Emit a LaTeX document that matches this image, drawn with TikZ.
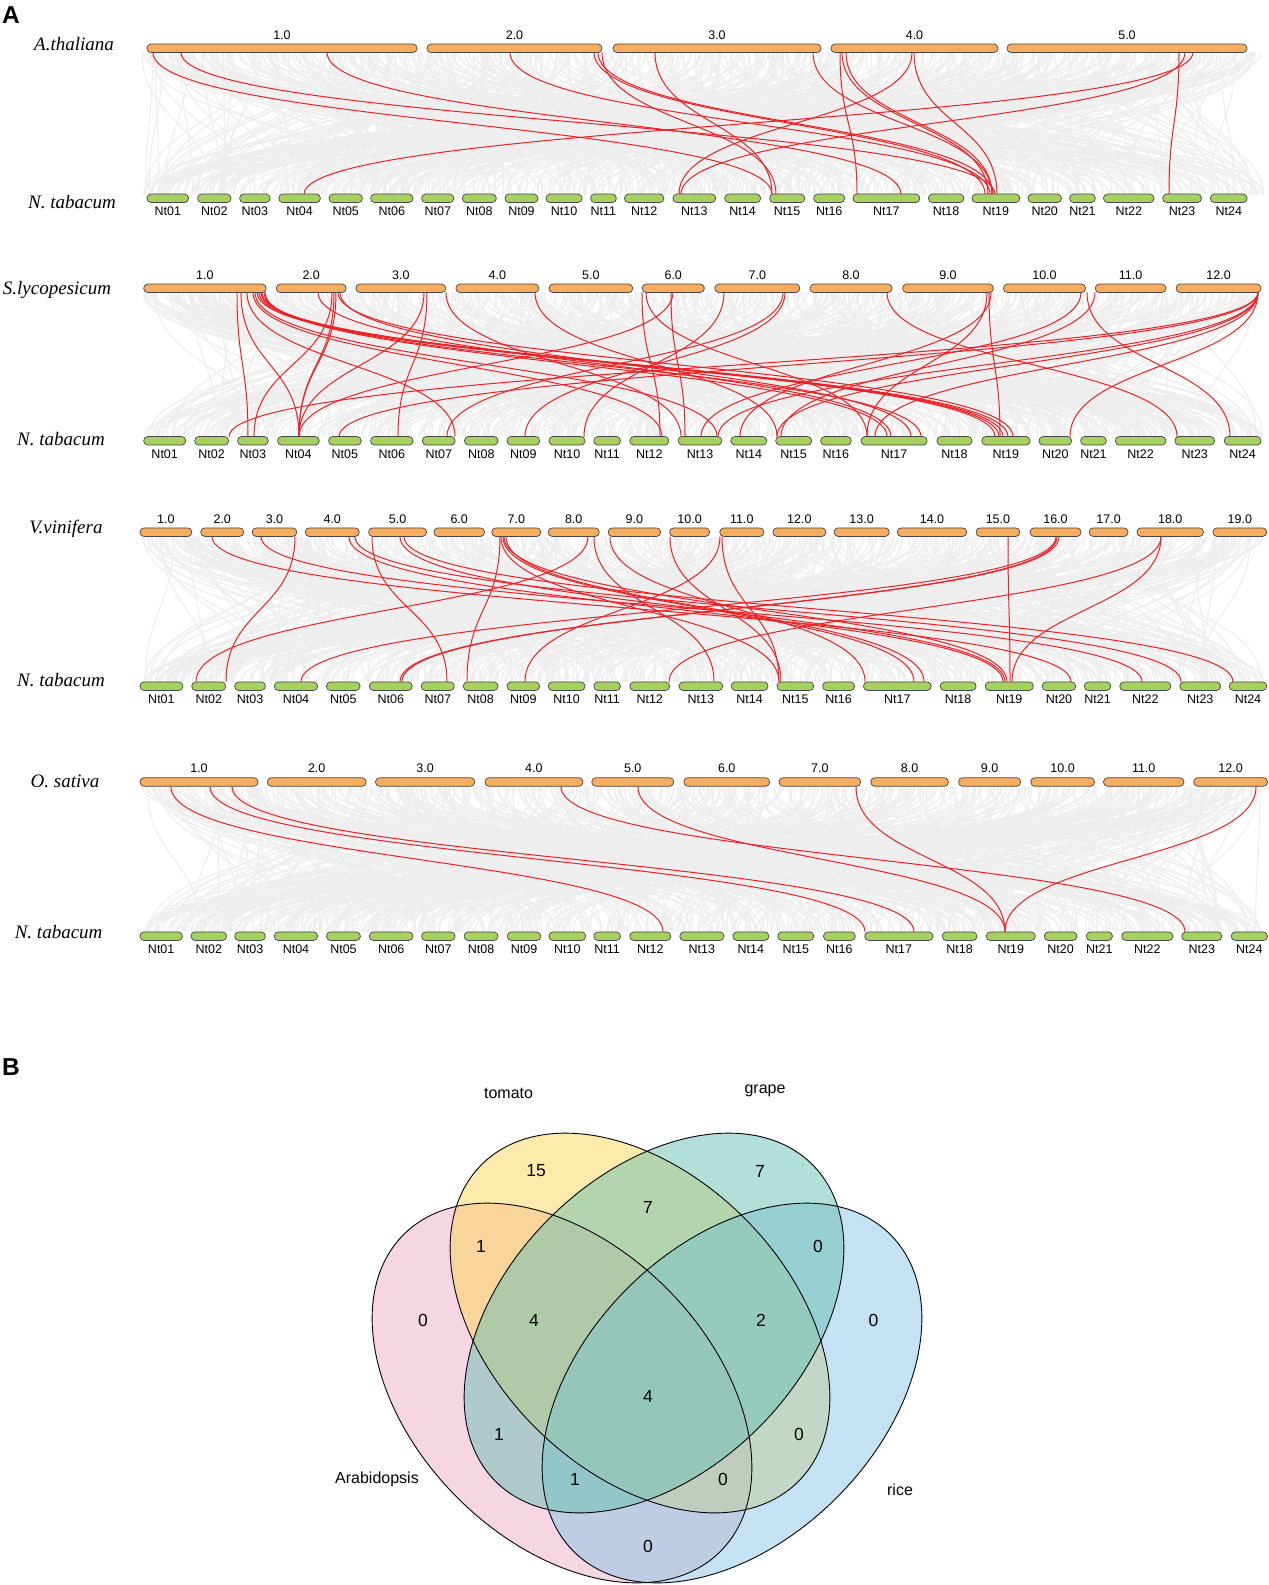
\documentclass[tikz,border=0pt]{standalone}
\usepackage{fontspec}
\setmainfont{Liberation Serif}
\setsansfont{Liberation Sans}

\definecolor{chrorange}{RGB}{247,172,94}
\definecolor{chrgreen}{RGB}{166,208,96}
\definecolor{chredge}{RGB}{70,70,70}
\definecolor{linkred}{RGB}{237,32,36}
\definecolor{linkgray}{RGB}{238,238,238}
\definecolor{vpink}{RGB}{237,173,197}
\definecolor{vyellow}{RGB}{253,213,85}
\definecolor{vteal}{RGB}{104,192,180}
\definecolor{vblue}{RGB}{137,197,231}

\newcommand\ntname[1]{Nt\ifnum#1<10 0\fi#1}
\newcommand\grayband[3]{%
  \pgfmathsetseed{#1}%
  \foreach \k in {1,...,650}{%
    \pgfmathsetmacro\p{142+1122*rnd}%
    \pgfmathsetmacro\q{142+1122*rnd}%
    \draw[graylink] (\p,#2) .. controls (\p,{(#2+#3)/2}) and (\q,{(#2+#3)/2}) .. (\q,#3);
  }}
\newcommand\redband[3]{%
  \foreach \p/\q in {#3}
    \draw[redlink] (\p,#1) .. controls (\p,{(#1+#2)/2}) and (\q,{(#1+#2)/2}) .. (\q,#2);
}

\begin{document}
\begin{tikzpicture}[x=1pt, y=-1pt,
    chrtop/.style={draw=chredge, fill=chrorange, line width=0.7pt, rounded corners=4pt,
      inner sep=0pt, outer sep=0pt, minimum height=8.5pt},
    chrbot/.style={chrtop, fill=chrgreen},
    chrlab/.style={font=\fontsize{12.5}{14}\sffamily, inner sep=0pt},
    spname/.style={font=\fontsize{19}{22}\selectfont\itshape, anchor=base, inner sep=0pt},
    panel/.style={font=\fontsize{24.5}{27}\sffamily\bfseries, inner sep=0pt},
    graylink/.style={draw=linkgray, line width=1.2pt},
    redlink/.style={draw=linkred, line width=1pt},
    vset/.style={font=\fontsize{16}{18}\sffamily, inner sep=0pt},
    vnum/.style={font=\fontsize{17.5}{20}\sffamily, inner sep=0pt}]

\useasboundingbox (0,0) rectangle (1269,1585);

\node[panel] (pa) at (11,15.5) {A};
\node[panel] (pb) at (11,1067) {B};

% A.thaliana
\grayband{11}{52.3}{194.3}
\redband{52.3}{194.3}{153/772, 181/995, 327/901, 510/990, 594/985, 598/993, 602/776,
  655/772, 813/992, 840/857, 842/988, 846/992, 912/679, 914/997, 1179/1169, 1185/681, 1193/304}
\foreach \a/\b/\lab [count=\i] in {147/417/1.0, 427/602/2.0, 613/821/3.0, 831/998/4.0, 1007/1247/5.0}
  \node[chrtop, minimum width={(\b-\a)*1pt}, label={[chrlab, label distance=4.5pt]above:\lab}] (ath\i) at ({(\a+\b)/2},48.3) {};
\foreach \a/\b [count=\i] in {147/188.6, 197.6/231, 239.6/270, 278.8/320.4, 329/362.4, 370.6/413,
    421.6/453.9, 462.4/496.3, 504.9/538, 546/582, 590.6/616.3, 624.5/663.9, 672.9/715.7,
    724.7/760.6, 769.6/804.7, 813.7/844.7, 852.9/919.8, 928.4/963.9, 972/1019.8, 1028/1061.4,
    1069.6/1095.3, 1103.5/1154, 1162.7/1201.4, 1210.4/1247.1}
  \node[chrbot, minimum width={(\b-\a)*1pt}, label={[chrlab, label distance=4.5pt]below:\ntname{\i}}] (ntA\i) at ({(\a+\b)/2},198.3) {};
\node[spname] (athname) at (74,50.7) {A.thaliana};
\node[spname] (ntAname) at (72,208) {N. tabacum};

% S.lycopesicum
\grayband{23}{292.3}{436.7}
\redband{292.3}{436.7}{237/248, 241/299, 247/455, 253/662, 257/995, 259/999, 261/1003, 262/1008,
  264/921, 265/887, 255/717, 318/891, 332/254, 334/299, 336/299, 338/1013, 340/911, 424/299,
  427/398, 446/681, 535/777, 642/660, 646/867, 671/685, 673/299, 724/584, 783/447, 785/525,
  887/1177, 987/867, 989/1000, 991/740, 1081/701, 1087/1230, 1095/781, 1258/229, 1258/339,
  1258/718, 1258/777, 1258/875, 1258/1070}
\foreach \a/\b/\lab [count=\i] in {143.7/266.1/1.0, 276.3/346.1/2.0, 355.9/445.7/3.0, 455.9/538.8/4.0,
    549/632.7/5.0, 642.2/704.3/6.0, 714.9/799.8/7.0, 810/892/8.0, 902.7/993.3/9.0,
    1003.5/1085.5/10.0, 1095.3/1165.9/11.0, 1176.1/1261/12.0}
  \node[chrtop, minimum width={(\b-\a)*1pt}, label={[chrlab, label distance=4.5pt]above:\lab}] (sly\i) at ({(\a+\b)/2},288.3) {};
\foreach \a/\b [count=\i] in {143.7/185.7, 194.7/228.6, 237.6/268.2, 277.6/319.2, 328.6/361.2,
    370.6/413, 422.4/455.1, 464.5/498, 507/539.6, 549/585, 593.9/620.4, 629.8/668.8,
    678.2/721.8, 730.8/766.7, 775.7/811.6, 820.6/851.2, 861/927.1, 936.9/972, 981.8/1030,
    1039/1071.6, 1080.6/1106.3, 1115.3/1165.9, 1174.9/1214.5, 1224.3/1261}
  \node[chrbot, minimum width={(\b-\a)*1pt}, label={[chrlab, label distance=4.5pt]below:\ntname{\i}}] (ntB\i) at ({(\a+\b)/2},440.8) {};
\node[spname] (slyname) at (57,294.3) {S.lycopesicum};
\node[spname] (ntBname) at (61,445) {N. tabacum};

% V.vinifera
\grayband{37}{536.7}{681.7}
\redband{536.7}{681.7}{212/1071, 261/1142, 295/226, 349/1003, 355/1181, 372/447, 400/1005,
  404/1233, 500/467, 501/779, 503/914, 504/1007, 506/924, 588/196, 594/714, 610/865, 670/781,
  720/525, 722/779, 1008/1010, 1056/301, 1057/400, 1059/402, 1161/669, 1161/1012}
\foreach \a/\b/\lab [count=\i] in {140/191.8/1.0, 200.8/243.7/2.0, 252.2/296.7/3.0, 305.3/359.2/4.0,
    368.6/426.5/5.0, 433.9/484.5/6.0, 491.8/540.8/7.0, 548.2/599.2/8.0, 608.2/660.6/9.0,
    669.6/709.6/10.0, 719.8/763.9/11.0, 772.9/825.9/12.0, 834.1/889.2/13.0, 897.3/966.7/14.0,
    976.1/1019.8/15.0, 1030/1081/16.0, 1089.2/1128/17.0, 1137/1203.5/18.0, 1212.9/1266.7/19.0}
  \node[chrtop, minimum width={(\b-\a)*1pt}, label={[chrlab, label distance=4.5pt]above:\lab}] (vvi\i) at ({(\a+\b)/2},532.2) {};
\foreach \a/\b [count=\i] in {140/182.9, 191.8/225.7, 234.7/265.3, 274.3/317.6, 326.5/360,
    369.4/412.2, 421.2/454.3, 463.3/498, 507/539.6, 548.2/585, 593.9/620.4, 629.8/669.6,
    679/722.7, 731.2/768, 777/813.7, 822.7/854.5, 863.5/931.2, 940.2/976.1, 985.1/1033.3,
    1042.2/1075.7, 1084.3/1110.8, 1119.8/1170.8, 1179.8/1220.6, 1229.2/1266.7}
  \node[chrbot, minimum width={(\b-\a)*1pt}, label={[chrlab, label distance=4.5pt]below:\ntname{\i}}] (ntC\i) at ({(\a+\b)/2},686.2) {};
\node[spname] (vviname) at (66,533.3) {V.vinifera};
\node[spname] (ntCname) at (61,686.7) {N. tabacum};

% O. sativa
\grayband{53}{786.7}{931.7}
\redband{786.7}{931.7}{171/663, 210/865, 232/914, 561/1185, 638/1005, 856/1005, 1256/1005}
\foreach \a/\b/\lab [count=\i] in {140/258/1.0, 267.3/366.1/2.0, 375.5/474.7/3.0, 484.9/582.9/4.0,
    591.8/673.7/5.0, 683.9/769.6/6.0, 779/860.6/7.0, 870.8/948.4/8.0, 958.6/1020.6/9.0,
    1030.8/1094.5/10.0, 1103.5/1183.9/11.0, 1193.7/1267.5/12.0}
  \node[chrtop, minimum width={(\b-\a)*1pt}, label={[chrlab, label distance=4.5pt]above:\lab}] (osa\i) at ({(\a+\b)/2},782) {};
\foreach \a/\b [count=\i] in {140/182.4, 191/226.5, 234.7/265.3, 274.3/317.6, 326.5/360.4,
    369.4/413, 421.6/455.1, 464.1/498, 507.3/540.8, 549/585.7, 593.9/620.4, 629.8/670.8,
    679.8/723.9, 732.9/768.8, 777.8/813.7, 823.5/855.3, 864.7/932.9, 942.2/976.9, 986.3/1035.3,
    1044.3/1076.9, 1086.3/1112.4, 1121.8/1172.9, 1181.8/1221.8, 1231.2/1267.5}
  \node[chrbot, minimum width={(\b-\a)*1pt}, label={[chrlab, label distance=4.5pt]below:\ntname{\i}}] (ntD\i) at ({(\a+\b)/2},936.2) {};
\node[spname] (osaname) at (65,787.3) {O. sativa};
\node[spname] (ntDname) at (58.6,938.3) {N. tabacum};

% Venn
\foreach \cx/\cy/\rot/\col in {562/1393/-45/vpink, 640/1323/-45/vyellow, 732/1393/45/vblue, 654/1323/45/vteal}
  \fill[\col, fill opacity=0.5, rotate around={\rot:(\cx,\cy)}] (\cx,\cy) ellipse [x radius=224pt, y radius=148pt];
\foreach \cx/\cy/\rot in {562/1393/-45, 640/1323/-45, 654/1323/45, 732/1393/45}
  \draw[line width=0.9pt, rotate around={\rot:(\cx,\cy)}] (\cx,\cy) ellipse [x radius=224pt, y radius=148pt];

\node[vset] (tomato) at (508.6,1093) {tomato};
\node[vset] (grape) at (765,1091) {grape};
\node[vset] (arab) at (377,1479) {Arabidopsis};
\node[vset] (rice) at (900,1490) {rice};

\node[vnum] (n1) at (536,1171) {15};
\node[vnum] (n2) at (760,1171) {7};
\node[vnum] (n3) at (648,1207) {7};
\node[vnum] (n4) at (481,1246) {1};
\node[vnum] (n5) at (818,1246) {0};
\node[vnum] (n6) at (423,1320) {0};
\node[vnum] (n7) at (534,1320) {4};
\node[vnum] (n8) at (761,1320) {2};
\node[vnum] (n9) at (873.5,1320) {0};
\node[vnum] (n10) at (648,1396) {4};
\node[vnum] (n11) at (499,1434) {1};
\node[vnum] (n12) at (799,1434) {0};
\node[vnum] (n13) at (575,1479) {1};
\node[vnum] (n14) at (723,1479) {0};
\node[vnum] (n15) at (648,1546) {0};
\end{tikzpicture}
\end{document}
